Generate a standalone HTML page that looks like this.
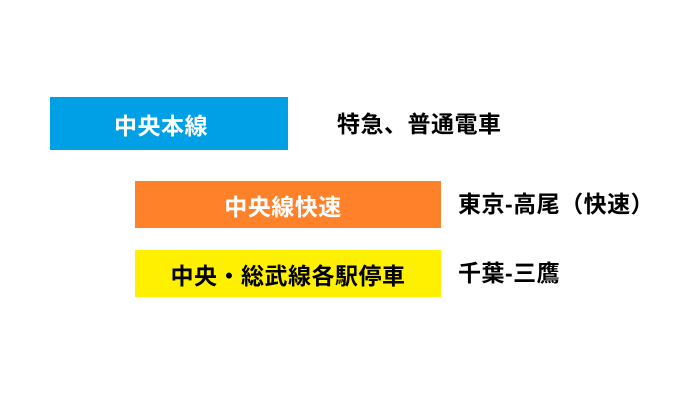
<!DOCTYPE html>
<html><head><meta charset="utf-8"><style>
body{margin:0;width:700px;height:400px;background:#fff;position:relative;overflow:hidden;font-family:"Liberation Sans","Noto Sans CJK JP",sans-serif;font-weight:bold;font-size:23px;}
.b{position:absolute;display:flex;align-items:center;justify-content:center;letter-spacing:0.5px;box-sizing:border-box;}
.t{position:absolute;color:#000;letter-spacing:0.5px;line-height:1;}
</style></head><body>
<div class="b" style="left:50px;top:97px;width:238px;height:53px;background:#00a0e6;color:#fff;padding-right:16px;">中央本線</div>
<div class="t" style="left:337px;top:113px;">特急、普通電車</div>
<div class="b" style="left:135px;top:181px;width:306px;height:47px;background:#ff822a;color:#fff;padding-right:10px;">中央線快速</div>
<div class="t" style="left:458px;top:193px;">東京-高尾（快速）</div>
<div class="b" style="left:135px;top:250px;width:306px;height:47px;background:#fff000;color:#000;">中央・総武線各駅停車</div>
<div class="t" style="left:458px;top:262px;">千葉-三鷹</div>
</body></html>
